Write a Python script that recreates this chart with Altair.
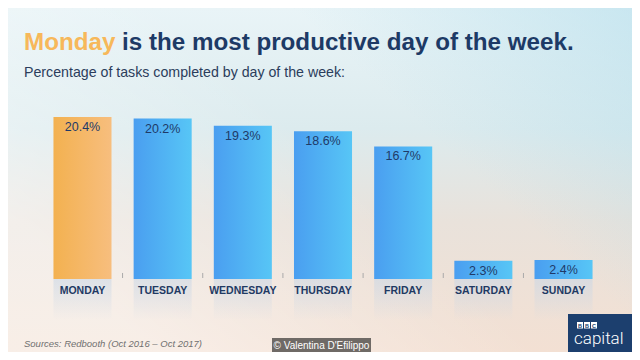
import altair as alt
import pandas as pd

# ---- data ----
days = ["MONDAY", "TUESDAY", "WEDNESDAY", "THURSDAY", "FRIDAY", "SATURDAY", "SUNDAY"]
values = [20.4, 20.2, 19.3, 18.6, 16.7, 2.3, 2.4]
value_labels = ["20.4%", "20.2%", "19.3%", "18.6%", "16.7%", "2.3%", "2.4%"]
highlight = ["MONDAY"]

title_hi = "Monday"
title_rest = "is the most productive day of the week."
subtitle = "Percentage of tasks completed by day of the week:"
source = "Sources: Redbooth (Oct 2016 \u2013 Oct 2017)"
credit = "\u00a9 Valentina D'Efilippo"

W, H = 624, 344
FONT = "Liberation Sans"
NAVY = "#1d3a66"

df = pd.DataFrame({
    "idx": list(range(len(days))),
    "day": days,
    "value": values,
    "label": value_labels,
})
df["hl"] = df["day"].isin(highlight).astype(int)

xs = alt.Scale(domain=[-0.929, 6.854], nice=False, zero=False)
ys = alt.Scale(domain=[-9.19, 34.13], nice=False, zero=False)
HALF = 0.362

one = pd.DataFrame({"a": [0]})


def grad(stops, x1=0, y1=0, x2=0, y2=1):
    return alt.Gradient(
        gradient="linear",
        stops=[alt.GradientStop(color=c, offset=o) for o, c in stops],
        x1=x1, y1=y1, x2=x2, y2=y2,
    )


def full_rect(color):
    return alt.Chart(one).mark_rect(color=color).encode(
        x=alt.value(0), x2=alt.value(W), y=alt.value(0), y2=alt.value(H)
    )


bg = full_rect(grad([(0, "#e9f4f7"), (0.35, "#dcebee"), (0.62, "#e9e2db"), (1, "#f3e0d3")]))
glow = full_rect(grad([(0, "rgba(255,255,255,0.45)"), (0.45, "rgba(255,255,255,0)"),
                       (0.6, "rgba(180,222,236,0)"), (1, "rgba(180,222,236,0.6)")],
                      x1=0, y1=0.6, x2=1, y2=0))

base = alt.Chart(df).transform_calculate(
    x0=f"datum.idx - {HALF}", x1=f"datum.idx + {HALF}", zero="0",
    btop="0", bbot="-5.2", tlo="0.13", thi="0.76", xm="datum.idx + 0.5",
)

label_boxes = base.mark_rect(
    color=grad([(0, "rgba(200,214,230,0.55)"), (1, "rgba(200,214,230,0)")])
).encode(
    x=alt.X("x0:Q", scale=xs, axis=None), x2="x1:Q",
    y=alt.Y("btop:Q", scale=ys, axis=None), y2="bbot:Q",
)

bars_blue = base.transform_filter("datum.hl == 0").mark_rect(
    color=grad([(0, "#4a9ef0"), (1, "#57c6f6")], x1=0, y1=0, x2=1, y2=0)
).encode(
    x=alt.X("x0:Q", scale=xs, axis=None), x2="x1:Q",
    y=alt.Y("value:Q", scale=ys, axis=None), y2="zero:Q",
)

bars_hl = base.transform_filter("datum.hl == 1").mark_rect(
    color=grad([(0, "#f3b150"), (1, "#f7be7e")], x1=0, y1=0, x2=1, y2=0)
).encode(
    x=alt.X("x0:Q", scale=xs, axis=None), x2="x1:Q",
    y=alt.Y("value:Q", scale=ys, axis=None), y2="zero:Q",
)

ticks = base.transform_filter(f"datum.idx < {len(days) - 1}").mark_rule(
    color="#a9a9a9", strokeWidth=1
).encode(
    x=alt.X("xm:Q", scale=xs, axis=None),
    y=alt.Y("thi:Q", scale=ys, axis=None), y2="tlo:Q",
)

value_text = alt.Chart(df).mark_text(
    baseline="top", dy=4, fontSize=12.5, color="#1f3a68", font=FONT
).encode(
    x=alt.X("idx:Q", scale=xs, axis=None),
    y=alt.Y("value:Q", scale=ys, axis=None),
    text="label:N",
)

day_text = alt.Chart(df).mark_text(
    baseline="middle", fontSize=10.5, fontWeight="bold", color="#1f3a63", font=FONT
).encode(
    x=alt.X("idx:Q", scale=xs, axis=None),
    y=alt.value(283),
    text="day:N",
)


def label(txt, x, y, **kw):
    return alt.Chart(one).mark_text(text=txt, font=FONT, **kw).encode(
        x=alt.value(x), y=alt.value(y)
    )


t1 = label(title_hi, 16, 42, align="left", baseline="alphabetic", fontSize=24.2,
           fontWeight="bold", color="#f7b85a")
t2 = label(title_rest, 114, 42, align="left", baseline="alphabetic", fontSize=24.2,
           fontWeight="bold", color=NAVY)
sub = label(subtitle, 16, 69, align="left", baseline="alphabetic", fontSize=14.2,
            color="#2b3d5c")
src = label(source, 16, 336, align="left", baseline="middle", fontSize=9.5,
            fontStyle="italic", color="#707070")


def box(x, x2, y, y2, color):
    return alt.Chart(one).mark_rect(color=color).encode(
        x=alt.value(x), x2=alt.value(x2), y=alt.value(y), y2=alt.value(y2)
    )


credit_box = box(264, 363, 330, 344, "#6f6a66")
credit_txt = label(credit, 313.5, 337.5, align="center", baseline="middle",
                   fontSize=10, color="#ffffff")

logo_parts = [box(560, W, 306, H, "#1c3f6e")]
for ch, px in zip(["B", "B", "C"], [569, 576, 583]):
    logo_parts.append(box(px, px + 6, 314, 320.5, "#ffffff"))
    logo_parts.append(label(ch, px + 3, 317.5, align="center", baseline="middle",
                            fontSize=5.5, fontWeight="bold", color="#1c3f6e"))
logo_txt = alt.Chart(one).mark_text(
    text="capital", align="left", baseline="alphabetic", fontSize=17,
    color="#ffffff", font="Roboto", fontWeight=300
).encode(x=alt.value(566), y=alt.value(336))

chart = alt.layer(
    bg, glow, label_boxes, bars_blue, bars_hl, ticks,
    value_text, day_text, t1, t2, sub, src, credit_box, credit_txt,
    *logo_parts, logo_txt,
).properties(
    width=W, height=H, padding=0,
    autosize=alt.AutoSizeParams(type="none"),
).configure_view(stroke=None).configure(font=FONT)

chart.save("out.html", embed_options={"renderer": "svg", "actions": False})
